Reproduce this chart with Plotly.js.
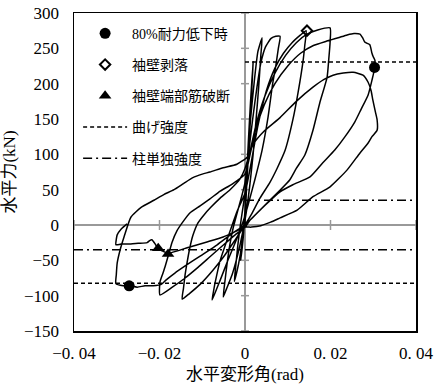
<!DOCTYPE html>
<html><head><meta charset="utf-8">
<script src="https://cdn.plot.ly/plotly-3.0.1.min.js"></script>
<style>html,body{margin:0;padding:0;background:#fff}#c{width:438px;height:392px}</style>
</head><body><div id="c"></div>
<script>
// hysteresis loop: drift angle (rad) and horizontal force (kN)
const driftAngle = [
 0.0000,0.0004,0.0008,0.0010,0.0008,0.0004,0.0000,-0.0003,-0.0007,-0.0010,-0.0008,-0.0004,0.0000,
 0.0004,0.0008,0.0013,0.0019,0.0017,0.0013,0.0008,0.0003,-0.0002,-0.0008,-0.0015,-0.0025,-0.0022,-0.0017,-0.0012,-0.0006,0.0000,
 0.0006,0.0013,0.0022,0.0030,0.0040,0.0037,0.0032,0.0026,0.0019,0.0011,0.0003,-0.0006,-0.0017,-0.0030,-0.0043,-0.0051,-0.0047,-0.0042,-0.0036,-0.0028,-0.0018,-0.0008,0.0000,
 0.0008,0.0018,0.0028,0.0037,0.0048,0.0061,0.0072,0.0082,0.0078,0.0072,0.0065,0.0054,0.0040,0.0023,0.0007,-0.0007,-0.0023,-0.0040,-0.0058,-0.0068,-0.0077,
 -0.0074,-0.0070,-0.0058,-0.0042,-0.0030,-0.0018,0.0000,
 0.0012,0.0030,0.0050,0.0070,0.0090,0.0110,0.0130,0.0143,0.0140,0.0136,0.0124,0.0112,0.0094,0.0075,0.0058,0.0035,0.0015,0.0000,-0.0023,-0.0050,-0.0075,-0.0105,-0.0130,-0.0147,
 -0.0144,-0.0140,-0.0136,-0.0130,-0.0122,-0.0110,-0.0095,-0.0080,-0.0060,-0.0035,-0.0012,0.0000,
 0.0012,0.0025,0.0045,0.0070,0.0095,0.0120,0.0145,0.0170,0.0199,0.0199,0.0196,0.0192,0.0175,0.0159,0.0140,0.0120,0.0105,0.0080,0.0058,0.0030,0.0012,0.0000,-0.0023,-0.0050,-0.0082,-0.0110,-0.0140,-0.0170,-0.0199,
 -0.0199,-0.0193,-0.0187,-0.0178,-0.0171,-0.0159,-0.0147,-0.0129,-0.0105,-0.0082,-0.0058,-0.0030,0.0000,
 0.0012,0.0025,0.0045,0.0070,0.0100,0.0130,0.0160,0.0190,0.0201,0.0218,0.0239,0.0255,0.0269,0.0275,0.0280,0.0286,0.0292,0.0297,0.0300,0.0304,0.0304,
 0.0297,0.0288,0.0271,0.0257,0.0234,0.0210,0.0182,0.0152,0.0112,0.0082,0.0047,0.0012,0.0000,-0.0028,-0.0065,-0.0105,-0.0140,-0.0164,-0.0185,-0.0196,-0.0215,-0.0234,-0.0252,-0.0271,-0.0285,-0.0302,
 -0.0301,-0.0299,-0.0292,-0.0283,-0.0267,-0.0243,-0.0213,-0.0190,-0.0166,-0.0143,-0.0122,-0.0100,-0.0082,-0.0051,-0.0019,0.0005,
 0.0020,0.0045,0.0082,0.0120,0.0159,0.0185,0.0206,0.0230,0.0253,0.0276,0.0288,0.0295,0.0299,0.0305,0.0309,0.0309,
 0.0297,0.0288,0.0269,0.0239,0.0199,0.0159,0.0122,0.0082,0.0060,0.0037,0.0015,0.0000,
 -0.0025,-0.0051,-0.0089,-0.0129,-0.0160,-0.0180,-0.0192,-0.0203,-0.0210,-0.0218,-0.0223,-0.0229,-0.0250,-0.0267,-0.0290,-0.0302,-0.0301,-0.0299,-0.0290,-0.0276
];
const horizForce = [
 0,60,110,140,120,70,20,-10,-35,-50,-35,-10,15,
 70,120,175,231,205,160,100,45,5,-30,-55,-80,-60,-30,-5,20,45,
 90,150,205,245,265,240,195,150,100,55,18,-12,-42,-70,-90,-102,-80,-55,-30,-5,18,40,60,
 100,150,195,229,252,264,267,267,250,225,201,153,106,64,28,0,-25,-50,-78,-93,-106,
 -95,-82,-50,-21,0,20,45,
 80,140,190,222,243,258,269,275,255,233,187,149,106,80,60,38,15,0,-21,-45,-64,-84,-97,-105,
 -90,-70,-55,-35,-15,3,15,25,37,50,65,80,
 105,140,180,215,240,258,270,276,279,258,235,209,173,134,99,80,64,48,35,18,7,-3,-14,-28,-45,-60,-75,-88,-99,
 -81,-70,-59,-40,-25,-8,3,17,27,37,48,58,72,
 100,135,170,200,225,243,254,260,262,265,269,271,270,265,259,257,255,243,238,233,224,
 205,184,163,146,125,106,88,68,57,47,28,7,0,-11,-28,-44,-58,-68,-78,-84,-86,-86,-88,-86,-86,-83,
 -70,-54,-35,-17,11,25,35,43,50,59,67,72,75,81,86,96,
 115,133,152,175,195,206,212,215,216,212,202,190,177,160,149,134,
 125,116,102,78,54,40,21,10,4,-1,-3,-3,
 -10,-17,-24,-31,-37,-40,-37,-34,-27,-21,-22,-25,-26,-27,-27,-28,-20,-14,-6,1.5
];
// event markers
const drop80X = [0.0303, -0.0271];
const drop80Y = [223, -86];
const spallX = [0.0145];
const spallY = [275];
const ruptureX = [-0.0203, -0.0180];
const ruptureY = [-33, -41];
// strength lines
const flexStrength = [230.5, -82.5];
const colStrength = [35, -35];
// tick labels
const xTickVals = [-0.04, -0.02, 0, 0.02, 0.04];
const xTickText = ['\u22120. 04', '\u22120. 02', '0', '0. 02', '0. 04'];
const yTickVals = [-150, -100, -50, 0, 50, 100, 150, 200, 250, 300];
const yTickText = yTickVals.map(v => v < 0 ? '\u2212' + Math.abs(v) : String(v));
const xMin = -0.04, xMax = 0.04;

const FONT = 'Liberation Serif, "Noto Sans CJK JP", serif';

const traces = [
  {x: driftAngle, y: horizForce, mode: 'lines', line: {color: '#000', width: 1.5, shape: 'spline', smoothing: 0.5},
   showlegend: false, hoverinfo: 'skip'},
  {x: drop80X, y: drop80Y, mode: 'markers', name: '80%耐力低下時', legendgroup: 'a',
   marker: {symbol: 'circle', size: 11, color: '#000'}},
  {x: spallX, y: spallY, mode: 'markers', name: '袖壁剥落', legendgroup: 'b',
   marker: {symbol: 'diamond-open', size: 8, color: '#000', line: {width: 2, color: '#000'}}},
  {x: ruptureX, y: ruptureY, mode: 'markers', name: '袖壁端部筋破断', legendgroup: 'c',
   marker: {symbol: 'triangle-up', size: 11, color: '#000'}},
  {x: [0, xMax, null, xMin, xMax], y: [flexStrength[0], flexStrength[0], null, flexStrength[1], flexStrength[1]],
   mode: 'lines', name: '曲げ強度', legendgroup: 'd', connectgaps: false,
   line: {color: '#000', width: 1.5, dash: '4px,3px'}},
  {x: [0, xMax, null, xMin, xMax], y: [colStrength[0], colStrength[0], null, colStrength[1], colStrength[1]],
   mode: 'lines', name: '柱単独強度', legendgroup: 'e', connectgaps: false,
   line: {color: '#000', width: 1.5, dash: '9px,4px,2px,4px'}}
];

const shapes = [];
yTickVals.filter(v => v !== 0).forEach(v => shapes.push({
  type: 'line', xref: 'x', yref: 'y', xsizemode: 'pixel', xanchor: 0, x0: -4, x1: 4, y0: v, y1: v,
  line: {color: '#999', width: 1.5}, layer: 'below'}));
xTickVals.filter(v => v !== 0).forEach(v => shapes.push({
  type: 'line', xref: 'x', yref: 'y', ysizemode: 'pixel', yanchor: 0, y0: -5, y1: 5, x0: v, x1: v,
  line: {color: '#999', width: 1.5}, layer: 'below'}));

const layout = {
  width: 438, height: 392,
  margin: {l: 74, r: 22, t: 13, b: 61},
  paper_bgcolor: '#fff', plot_bgcolor: '#fff',
  font: {family: FONT, size: 17, color: '#000'},
  showlegend: true,
  legend: {x: 0.012, xanchor: 'left', y: 0.985, yanchor: 'top', bgcolor: 'rgba(0,0,0,0)',
    font: {family: FONT, size: 14, color: '#000'}, traceorder: 'grouped', tracegroupgap: 10, itemwidth: 44},
  xaxis: {range: [xMin, xMax], tickvals: xTickVals, ticktext: xTickText, showgrid: false,
    zeroline: true, zerolinecolor: '#999', zerolinewidth: 1.5,
    showline: true, mirror: true, linecolor: '#000', linewidth: 1.5,
    ticks: 'outside', ticklen: 6, tickcolor: 'rgba(0,0,0,0)',
    title: {text: '水平変形角(rad)', font: {family: FONT, size: 17}, standoff: 6}},
  yaxis: {range: [-150, 300], tickvals: yTickVals, ticktext: yTickText, showgrid: false,
    zeroline: true, zerolinecolor: '#999', zerolinewidth: 1.5,
    showline: true, mirror: true, linecolor: '#000', linewidth: 1.5,
    ticks: 'outside', ticklen: 10, tickcolor: 'rgba(0,0,0,0)',
    title: {text: '水平力(kN)', font: {family: FONT, size: 17}, standoff: 8}},
  shapes: shapes
};
Plotly.newPlot('c', traces, layout, {staticPlot: true, displayModeBar: false});
</script></body></html>
